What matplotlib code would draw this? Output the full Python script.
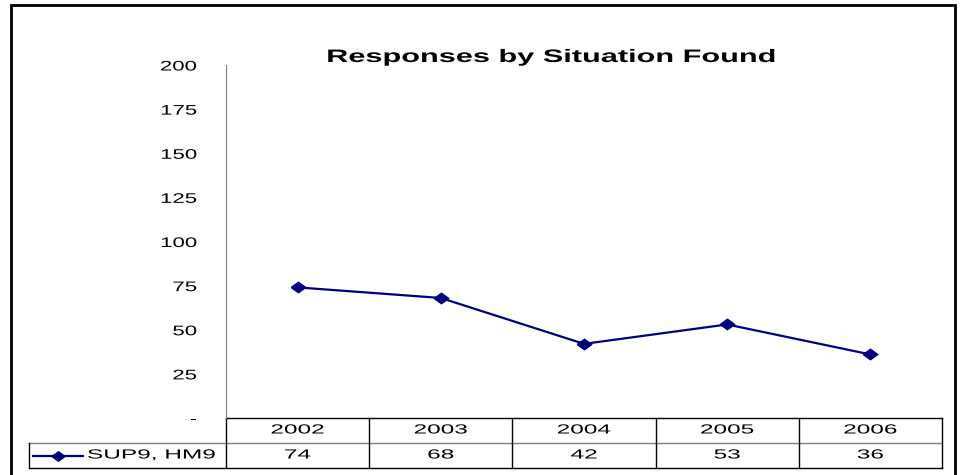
import matplotlib.pyplot as plt
from matplotlib.lines import Line2D
from matplotlib.patches import Rectangle
from matplotlib.patheffects import AbstractPathEffect
from matplotlib.transforms import Affine2D

plt.rcParams['font.family'] = ['Liberation Sans', 'DejaVu Sans']

years = ['2002', '2003', '2004', '2005', '2006']
responses = [74, 68, 42, 53, 36]
series_name = 'SUP9, HM9'
y_ticks = [0, 25, 50, 75, 100, 125, 150, 175, 200]
y_tick_labels = ['-', '25', '50', '75', '100', '125', '150', '175', '200']


class Stretch(AbstractPathEffect):
    # the reference text is drawn wide, so scale glyphs sideways
    def __init__(self, sx, anchor='center'):
        super().__init__()
        self.sx = sx
        self.anchor = anchor

    def draw_path(self, renderer, gc, tpath, affine, rgbFace=None):
        ext = tpath.get_extents()
        c = {'left': 0, 'center': (ext.x0 + ext.x1) / 2, 'right': ext.x1}[self.anchor]
        t = Affine2D().translate(-c, 0).scale(self.sx, 1).translate(c, 0)
        renderer.draw_path(gc, tpath, t + affine, rgbFace)


W, H = 961, 475
fig = plt.figure(figsize=(W / 100, H / 100), dpi=100)

# outer chart border
fig.patches.append(Rectangle((11 / W, -0.05), (955 - 11) / W, 1 - 5 / H + 0.05,
                             transform=fig.transFigure, fill=False,
                             edgecolor='black', linewidth=2))

diamond = [(-1, 0), (0, 0.72), (1, 0), (0, -0.72), (-1, 0)]
navy = '#000080'

ax = fig.add_axes([226 / W, 1 - 418 / H, (942 - 226) / W, (418 - 65) / H])
x = list(range(len(years)))
ax.plot(x, responses, color=navy, linewidth=1.6, marker=diamond, markersize=10.5,
        clip_on=False)
ax.set_xlim(-0.5, len(years) - 0.5)
ax.set_ylim(0, 200)
ax.set_yticks(y_ticks)
ax.set_yticklabels(y_tick_labels)
ax.tick_params(axis='y', length=0, pad=21, labelsize=10)
for lab in ax.get_yticklabels():
    lab.set_path_effects([Stretch(1.6, 'right')])
ax.set_xticks([])
for s in ['top', 'right', 'bottom']:
    ax.spines[s].set_visible(False)
ax.spines['left'].set_color('#808080')

fig.text(551 / W, 1 - 62 / H, 'Responses by Situation Found', ha='center',
         va='baseline', fontsize=13, fontweight='bold',
         path_effects=[Stretch(1.7, 'center')])

# data table under the axis
row_h = 25 / (418 - 65)
tr = ax.get_xaxis_transform()
n = len(years)
col_w = (942 - 226) / n
lc = dict(color='black', linewidth=1, transform=tr, clip_on=False)
left_x = -0.5 - (226 - 29) / col_w
ax.add_line(Line2D([-0.5, n - 0.5], [0, 0], **lc))
ax.add_line(Line2D([left_x, n - 0.5], [-row_h, -row_h], color='#808080',
                   linewidth=1, transform=tr, clip_on=False))
ax.add_line(Line2D([left_x, n - 0.5], [-2 * row_h, -2 * row_h], **lc))
for i in range(n + 1):
    ax.add_line(Line2D([i - 0.5, i - 0.5], [0, -2 * row_h], **lc))
ax.add_line(Line2D([left_x, left_x], [-row_h, -2 * row_h], **lc))

cell_fx = [Stretch(1.85, 'center')]
for i, (yr, v) in enumerate(zip(years, responses)):
    ax.text(i, -0.5 * row_h, yr, transform=tr, ha='center', va='center',
            fontsize=9.5, path_effects=cell_fx)
    ax.text(i, -1.5 * row_h, str(v), transform=tr, ha='center', va='center',
            fontsize=9.5, path_effects=cell_fx)

# legend key in the row header
kx0 = left_x + 4 / col_w
kx1 = left_x + 54 / col_w
ax.add_line(Line2D([kx0, kx1], [-1.5 * row_h] * 2, color=navy, linewidth=1.6,
                   transform=tr, clip_on=False))
ax.add_line(Line2D([(kx0 + kx1) / 2], [-1.5 * row_h], color=navy, marker=diamond,
                   markersize=9.5, linestyle='none', transform=tr, clip_on=False))
ax.text(left_x + 58 / col_w, -1.5 * row_h, series_name, transform=tr, ha='left',
        va='center', fontsize=9.5, path_effects=[Stretch(1.85, 'left')])

fig.savefig('out.png', dpi=100)
